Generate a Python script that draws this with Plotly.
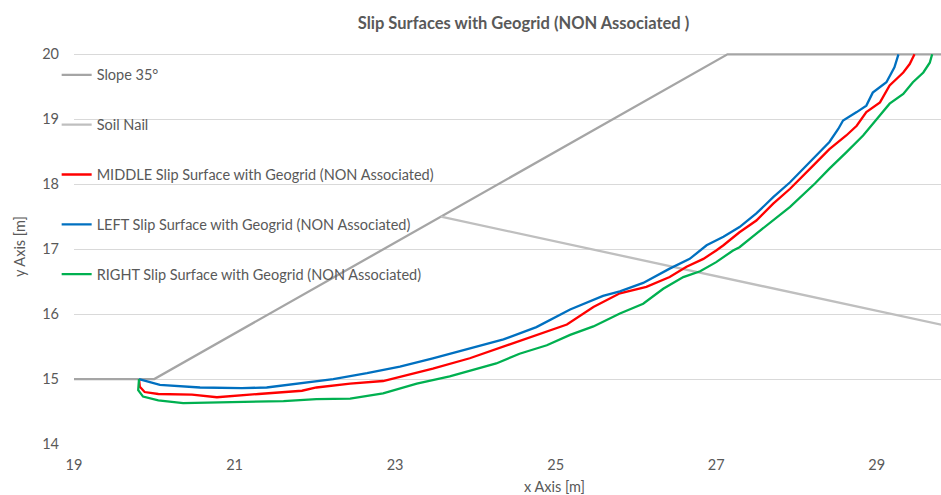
import plotly.graph_objects as go

# Slope geometry (35 degree slope, crest at y = 20)
slope_x = [19.0, 20.0, 27.14, 30.0]
slope_y = [15.0, 15.0, 20.0, 20.0]

# Soil nail (inclined downwards from the slope face)
nail_x = [23.57, 30.5]
nail_y = [17.50, 15.65]

# MIDDLE slip surface
mid_x = [19.81, 19.82, 19.88, 20.05, 20.47, 20.78, 21.30, 21.63, 21.84, 22.02, 22.44,
         22.85, 23.27, 23.47, 23.93, 24.35, 24.76, 25.14, 25.47, 25.80, 26.13, 26.42,
         26.63, 26.84, 27.00, 27.09, 27.29, 27.50, 27.71, 27.92, 28.21, 28.41, 28.62,
         28.75, 28.87, 29.04, 29.16, 29.33, 29.41, 29.47]
mid_y = [15.00, 14.88, 14.80, 14.77, 14.76, 14.72, 14.77, 14.80, 14.82, 14.87, 14.93,
         14.97, 15.10, 15.16, 15.32, 15.50, 15.68, 15.84, 16.11, 16.32, 16.42, 16.57,
         16.73, 16.85, 16.98, 17.06, 17.26, 17.44, 17.70, 17.93, 18.29, 18.54, 18.75,
         18.90, 19.11, 19.26, 19.52, 19.72, 19.85, 20.00]

# LEFT slip surface
left_x = [19.81, 20.07, 20.57, 21.09, 21.40, 21.81, 22.23, 22.65, 23.06, 23.47, 23.93,
          24.35, 24.76, 25.18, 25.59, 25.80, 26.09, 26.42, 26.67, 26.88, 27.09, 27.29,
          27.50, 27.71, 27.92, 28.21, 28.41, 28.52, 28.58, 28.75, 28.87, 28.95, 29.12,
          29.22, 29.27]
left_y = [15.00, 14.91, 14.87, 14.86, 14.87, 14.93, 15.00, 15.09, 15.19, 15.32, 15.47,
          15.61, 15.80, 16.07, 16.28, 16.35, 16.48, 16.70, 16.85, 17.06, 17.19, 17.34,
          17.55, 17.80, 18.03, 18.39, 18.65, 18.85, 18.98, 19.11, 19.21, 19.41, 19.57,
          19.80, 20.00]

# RIGHT slip surface
right_x = [19.81, 19.80, 19.86, 19.95, 20.05, 20.36, 20.98, 21.61, 22.02, 22.44, 22.85,
           23.27, 23.68, 23.93, 24.26, 24.55, 24.89, 25.18, 25.47, 25.80, 26.09, 26.34,
           26.59, 26.80, 27.00, 27.21, 27.29, 27.50, 27.71, 27.92, 28.23, 28.41, 28.62,
           28.83, 29.04, 29.16, 29.33, 29.45, 29.58, 29.66, 29.69]
right_y = [15.00, 14.83, 14.73, 14.70, 14.67, 14.63, 14.65, 14.66, 14.69, 14.70, 14.78,
           14.93, 15.04, 15.13, 15.24, 15.39, 15.52, 15.68, 15.81, 16.01, 16.16, 16.39,
           16.57, 16.66, 16.80, 16.98, 17.03, 17.24, 17.44, 17.65, 18.01, 18.24, 18.49,
           18.75, 19.06, 19.24, 19.39, 19.57, 19.72, 19.87, 20.00]

x_ticks = [19, 21, 23, 25, 27, 29]
y_ticks = [14, 15, 16, 17, 18, 19, 20]

TEXT = "#595959"
FONT = "Lato, 'Open Sans', sans-serif"

series = [
    ("Slope 35°", slope_x, slope_y, "#A5A5A5"),
    ("Soil Nail", nail_x, nail_y, "#BFBFBF"),
    ("MIDDLE Slip Surface with Geogrid (NON Associated)", mid_x, mid_y, "#FF0000"),
    ("LEFT Slip Surface with Geogrid (NON Associated)", left_x, left_y, "#0070C0"),
    ("RIGHT Slip Surface with Geogrid (NON Associated)", right_x, right_y, "#00B050"),
]

fig = go.Figure()
for i, (name, xs, ys, color) in enumerate(series):
    fig.add_trace(go.Scatter(
        x=xs, y=ys, name=name, mode="lines",
        line=dict(color=color, width=2.3),
        legendgroup=f"g{i}",
    ))

fig.update_layout(
    width=941, height=495,
    margin=dict(l=74, r=0, t=53, b=51),
    paper_bgcolor="white", plot_bgcolor="white",
    font=dict(family=FONT, size=14.5, color=TEXT),
    title=dict(
        text="<b>Slip Surfaces with Geogrid (NON Associated )</b>",
        font=dict(family=FONT, size=16.5, color=TEXT),
        xref="container", x=523.5 / 941, xanchor="center",
        yref="container", y=1 - 23 / 495, yanchor="middle",
    ),
    showlegend=True,
    legend=dict(
        x=-0.02, xanchor="left", y=0.985, yanchor="top",
        bgcolor="rgba(0,0,0,0)",
        font=dict(family=FONT, size=14.5, color=TEXT),
        tracegroupgap=28, itemwidth=30,
    ),
    xaxis=dict(
        range=[19, 29.8], tickvals=x_ticks, showgrid=False, zeroline=False,
        showline=False, ticks="", ticklabelstandoff=10,
        tickfont=dict(family=FONT, size=14.5, color=TEXT),
    ),
    yaxis=dict(
        range=[14, 20.02], tickvals=y_ticks, showgrid=True, gridcolor="#D9D9D9",
        gridwidth=1, zeroline=False, showline=False, ticks="", ticklabelstandoff=14,
        tickfont=dict(family=FONT, size=14.5, color=TEXT),
    ),
    annotations=[
        dict(text="x Axis [m]", xref="paper", yref="paper",
             x=(554 - 74) / 867, y=-(486 - 444) / 391, xanchor="center", yanchor="middle",
             showarrow=False, font=dict(family=FONT, size=14.5, color=TEXT)),
        dict(text="y Axis [m]", xref="paper", yref="paper", textangle=-90,
             x=-(74 - 19) / 867, y=(444 - 247) / 391, xanchor="center", yanchor="middle",
             showarrow=False, font=dict(family=FONT, size=14.5, color=TEXT)),
    ],
)

fig.write_html("out.html")
